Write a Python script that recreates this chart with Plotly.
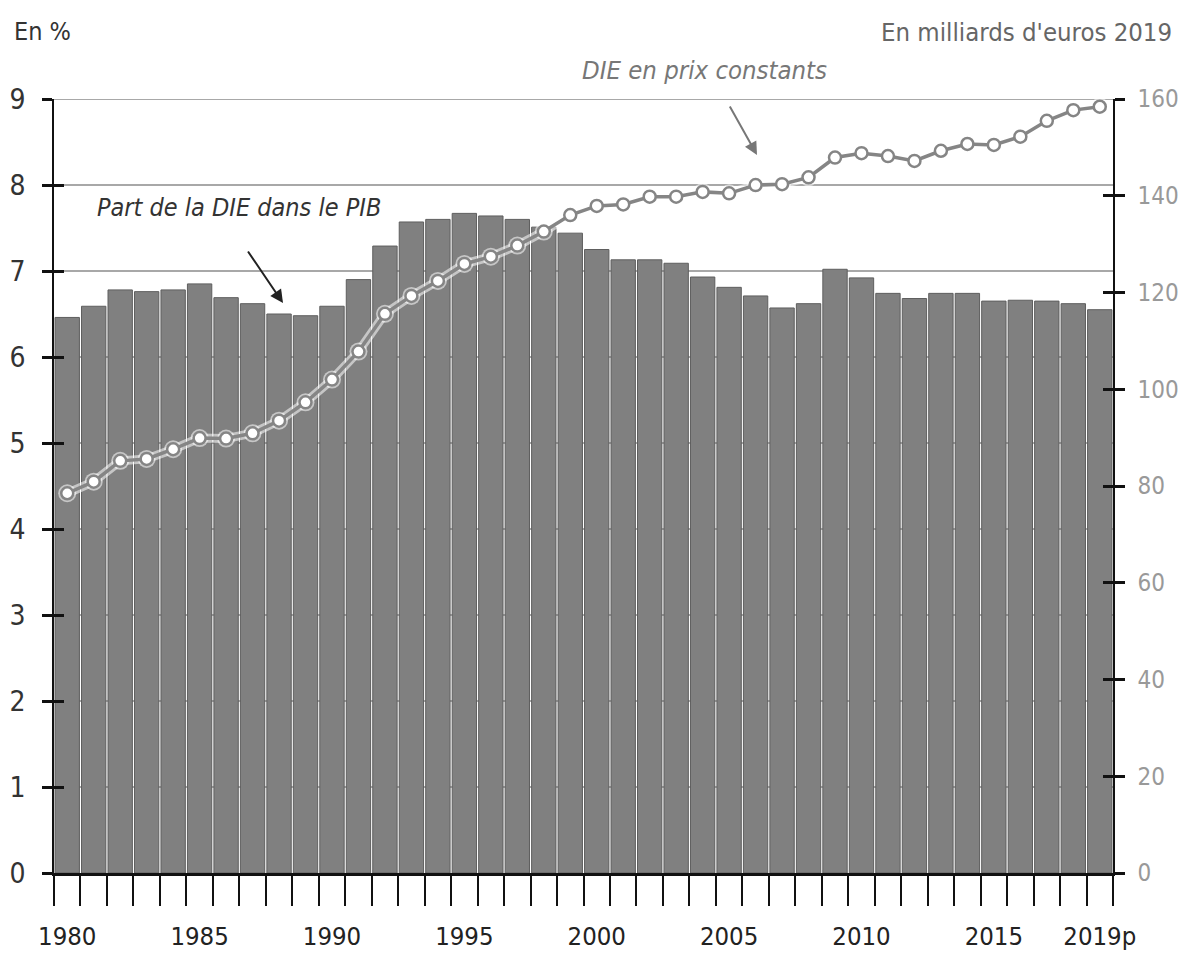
import plotly.graph_objects as go

# ---- data ----
years = list(range(1980, 2020))
part_die_pib = [6.46, 6.59, 6.78, 6.76, 6.78, 6.85, 6.69, 6.62, 6.50, 6.48,
                6.59, 6.90, 7.29, 7.57, 7.60, 7.67, 7.64, 7.60, 7.51, 7.44,
                7.25, 7.13, 7.13, 7.09, 6.93, 6.81, 6.71, 6.57, 6.62, 7.02,
                6.92, 6.74, 6.68, 6.74, 6.74, 6.65, 6.66, 6.65, 6.62, 6.55]
die_prix_constants = [78.5, 80.9, 85.2, 85.6, 87.6, 89.9, 89.8, 90.9, 93.5, 97.3,
                      102.0, 107.8, 115.6, 119.3, 122.4, 125.9, 127.4, 129.7, 132.6, 136.0,
                      137.9, 138.2, 139.8, 139.8, 140.8, 140.5, 142.2, 142.4, 143.8, 147.9,
                      148.8, 148.2, 147.2, 149.3, 150.7, 150.5, 152.2, 155.5, 157.7, 158.4]
label_years = [1980, 1985, 1990, 1995, 2000, 2005, 2010, 2015, 2019]
label_texts = ["1980", "1985", "1990", "1995", "2000", "2005", "2010", "2015", "2019p"]
left_ticks = list(range(0, 10))
right_ticks = list(range(0, 161, 20))

FONT = "DejaVu Sans Condensed, Liberation Sans Narrow, sans-serif"
W, H = 1181, 954
L, R, T, B = 54, 68, 99, 81
PW, PH = W - L - R, H - T - B


def px(x):
    return (x - L) / PW


def py(y):
    return (H - B - y) / PH


boundaries = [years[0] - 0.5 + i for i in range(len(years) + 1)]
xr = [years[0] - 0.5, years[-1] + 0.5]

fig = go.Figure()
fig.add_trace(go.Bar(
    x=years, y=part_die_pib, xaxis="x", yaxis="y",
    marker=dict(color="#808080", line=dict(color="#5e5e5e", width=1)),
    showlegend=False, hoverinfo="skip"))
# white halo under the line
fig.add_trace(go.Scatter(
    x=years, y=die_prix_constants, xaxis="x", yaxis="y2",
    mode="lines+markers",
    line=dict(color="rgba(255,255,255,0.55)", width=9),
    marker=dict(symbol="circle", size=18, color="rgba(255,255,255,0.55)", line=dict(width=0)),
    showlegend=False, hoverinfo="skip"))
fig.add_trace(go.Scatter(
    x=years, y=die_prix_constants, xaxis="x", yaxis="y2",
    mode="lines+markers",
    line=dict(color="#858585", width=3.5),
    marker=dict(symbol="circle", size=12, color="white",
                line=dict(color="#858585", width=2.5)),
    showlegend=False, hoverinfo="skip"))
# helper invisible traces for extra tick axes
fig.add_trace(go.Scatter(x=[years[0]], y=[0], xaxis="x2", yaxis="y3",
                         mode="markers", marker=dict(opacity=0), showlegend=False, hoverinfo="skip"))
fig.add_trace(go.Scatter(x=[years[0]], y=[0], xaxis="x2", yaxis="y4",
                         mode="markers", marker=dict(opacity=0), showlegend=False, hoverinfo="skip"))

TF = 26
fig.update_layout(
    width=W, height=H,
    margin=dict(l=L, r=R, t=T, b=B, pad=0, autoexpand=False),
    paper_bgcolor="white", plot_bgcolor="white",
    bargap=0.08,
    font=dict(family=FONT, size=TF, color="#333"),
    xaxis=dict(range=xr, tickvals=boundaries, ticktext=[""] * len(boundaries),
               ticks="outside", ticklen=30, tickwidth=1.5, tickcolor="#111",
               showline=True, linecolor="#111", linewidth=2.5, automargin=False,
               showgrid=False, zeroline=False, fixedrange=True),
    xaxis2=dict(range=xr, overlaying="x", anchor="y", side="bottom",
                tickvals=label_years, ticktext=label_texts,
                ticks="outside", ticklen=30, tickcolor="rgba(0,0,0,0)",
                ticklabelstandoff=10, automargin=False,
                tickfont=dict(family=FONT, size=25.5, color="#222"),
                showline=False, showgrid=False, zeroline=False),
    yaxis=dict(range=[0, 9], tickvals=left_ticks,
               ticks="outside", ticklen=10, tickwidth=2.5, tickcolor="#111",
               showline=True, linecolor="#111", linewidth=1.5,
               showgrid=True, gridcolor="#a8a8a8", gridwidth=2, automargin=False,
               zeroline=False, ticklabelstandoff=11,
               tickfont=dict(family=FONT, size=28, color="#333")),
    yaxis2=dict(range=[0, 160], tickvals=right_ticks, overlaying="y", side="right",
                anchor="x",
                ticks="outside", ticklen=10, tickwidth=2.5, tickcolor="#111",
                showline=True, linecolor="#111", linewidth=1.5, automargin=False,
                showgrid=False, zeroline=False, ticklabelstandoff=8,
                tickfont=dict(family=FONT, size=24, color="#999")),
    yaxis3=dict(range=[0, 9], tickvals=left_ticks, overlaying="y", side="left",
                anchor="x", ticks="inside", ticklen=10, tickwidth=2.5, tickcolor="#111",
                automargin=False,
                showticklabels=False, showline=False, showgrid=False, zeroline=False),
    yaxis4=dict(range=[0, 160], tickvals=right_ticks, overlaying="y", side="right",
                anchor="x", ticks="inside", ticklen=10, tickwidth=2.5, tickcolor="#111",
                automargin=False,
                showticklabels=False, showline=False, showgrid=False, zeroline=False),
    shapes=[
        dict(type="line", xref="paper", x0=0, x1=1, yref="y", y0=left_ticks[-1], y1=left_ticks[-1],
             line=dict(color="#a8a8a8", width=2), layer="below"),
    ],
    annotations=[
        dict(text="En %", x=px(12), y=py(32), xref="paper", yref="paper",
             xanchor="left", yanchor="middle", showarrow=False,
             font=dict(family=FONT, size=25, color="#333")),
        dict(text="En milliards d'euros 2019", x=px(1174), y=py(32), xref="paper", yref="paper",
             xanchor="right", yanchor="middle", showarrow=False,
             font=dict(family=FONT, size=25.5, color="#666")),
        dict(text="<i>Part de la DIE dans le PIB</i>", x=px(239), y=py(208),
             xref="paper", yref="paper", xanchor="center", yanchor="middle", showarrow=False,
             font=dict(family=FONT, size=25, color="#333")),
        dict(text="", x=px(283), y=py(303), xref="paper", yref="paper",
             ax=247 - 283, ay=250 - 303, axref="pixel", ayref="pixel",
             showarrow=True, arrowhead=2, arrowsize=1.3, arrowwidth=2, arrowcolor="#222"),
        dict(text="<i>DIE en prix constants</i>", x=px(704), y=py(70),
             xref="paper", yref="paper", xanchor="center", yanchor="middle", showarrow=False,
             font=dict(family=FONT, size=25.5, color="#777")),
        dict(text="", x=px(757), y=py(155), xref="paper", yref="paper",
             ax=729 - 757, ay=105 - 155, axref="pixel", ayref="pixel",
             showarrow=True, arrowhead=2, arrowsize=1.3, arrowwidth=2, arrowcolor="#777"),
    ],
)

fig.write_html("out.html", config={"displayModeBar": False},
               post_script="document.body.style.margin='0';document.body.style.padding='0';")
